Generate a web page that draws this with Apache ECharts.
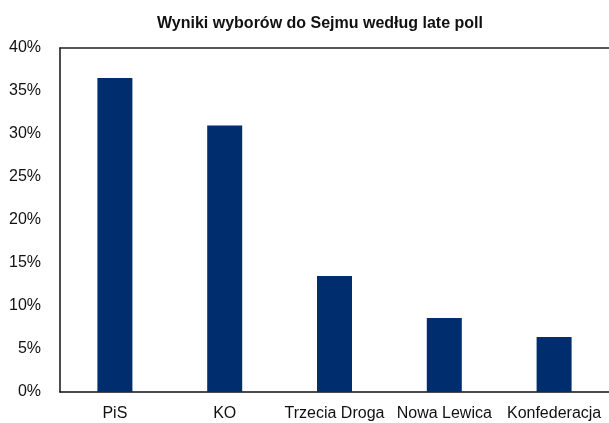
<!DOCTYPE html>
<html><head><meta charset="utf-8">
<script src="https://cdn.jsdelivr.net/npm/echarts@6/dist/echarts.min.js"></script>
<style>html,body{margin:0;padding:0;background:#fff}#c{width:609px;height:423px}</style>
</head><body><div id="c"></div>
<script>
var categories = ['PiS', 'KO', 'Trzecia Droga', 'Nowa Lewica', 'Konfederacja'];
var values = [36.5, 31.0, 13.5, 8.6, 6.4];
var yTicks = [0, 5, 10, 15, 20, 25, 30, 35, 40];

var chart = echarts.init(document.getElementById('c'), null, {renderer: 'canvas'});
chart.setOption({
  animation: false,
  backgroundColor: '#fff',
  title: {
    text: 'Wyniki wyborów do Sejmu według late poll',
    left: 315, top: 11, textAlign: 'center',
    textStyle: {fontFamily: 'Liberation Sans, Arial', fontWeight: 'bold', fontSize: 16, color: '#111'}
  },
  grid: {left: 60, top: 48, width: 552, height: 344, containLabel: false},
  xAxis: [{
    type: 'category', data: categories,
    axisLine: {show: true, lineStyle: {color: '#111', width: 1.5}},
    axisTick: {show: false},
    axisLabel: {fontFamily: 'Liberation Sans, Arial', fontSize: 16, color: '#111', margin: 14, interval: 0}
  }, {
    type: 'category', data: categories, position: 'top',
    axisLine: {show: true, lineStyle: {color: '#222', width: 1.5}},
    axisTick: {show: false}, axisLabel: {show: false}
  }],
  yAxis: {
    type: 'value', min: yTicks[0], max: yTicks[yTicks.length - 1], interval: 5,
    axisLine: {show: true, lineStyle: {color: '#111', width: 1.5}},
    axisTick: {show: false},
    splitLine: {show: false},
    axisLabel: {fontFamily: 'Liberation Sans, Arial', fontSize: 16, color: '#111', margin: 19,
      formatter: function (v) { return v + '%'; }}
  },
  series: [{
    type: 'bar', data: values, barWidth: 35, xAxisIndex: 0,
    itemStyle: {color: '#002D6E'}
  }]
});
</script></body></html>
